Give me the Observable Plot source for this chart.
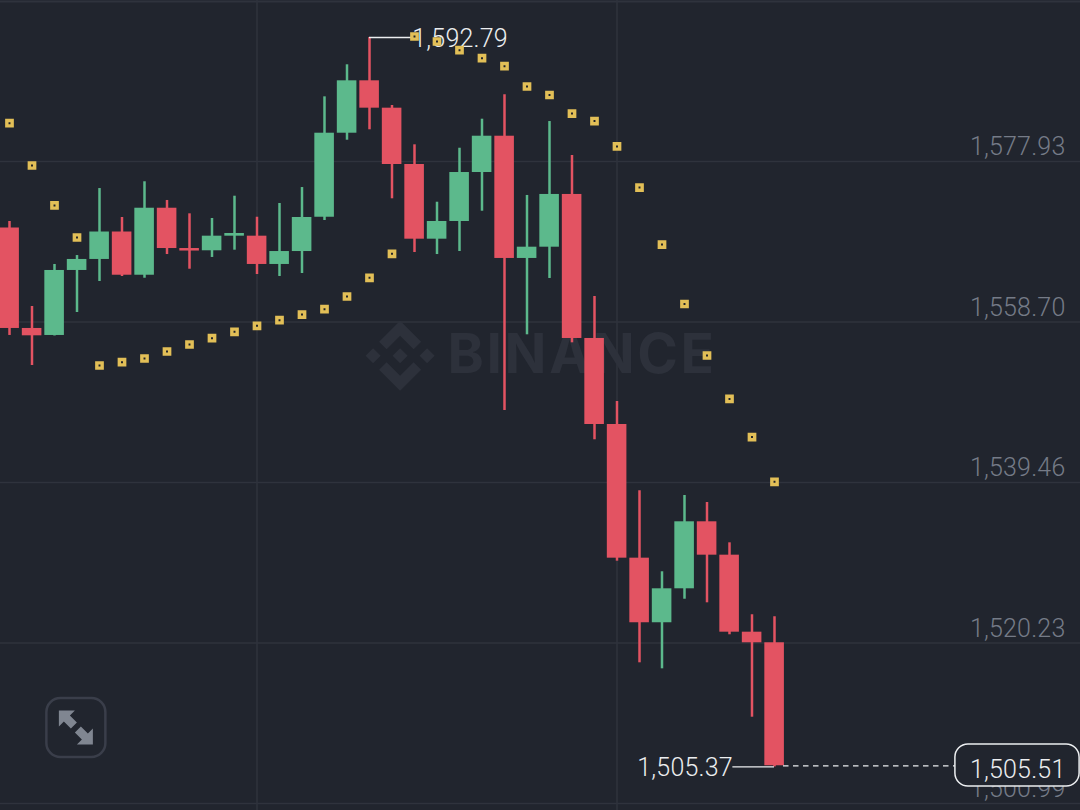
<!DOCTYPE html>
<html>
<head>
<meta charset="utf-8">
<script src="https://cdn.jsdelivr.net/npm/d3@7"></script>
<script src="https://cdn.jsdelivr.net/npm/@observablehq/plot@0.6"></script>
<style>
html,body{margin:0;padding:0;background:#21252e;overflow:hidden}
svg{display:block}
svg text{letter-spacing:.2px}
svg .wm text{letter-spacing:2.6px}
</style>
</head>
<body>
<div id="chart"></div>
<script>
const open  = [1569.96,1557.92,1557.08,1564.87,1566.19,1569.48,1564.30,1572.33,1567.50,1567.23,1568.98,1568.98,1565.59,1567.14,1571.25,1581.32,1587.60,1584.32,1577.57,1568.62,1570.74,1576.61,1580.96,1566.31,1567.66,1573.98,1556.72,1546.41,1530.39,1522.65,1526.72,1534.75,1530.75,1521.52,1520.25];
const close = [1557.92,1557.04,1564.87,1566.19,1569.48,1564.30,1572.33,1567.50,1567.20,1568.98,1569.30,1565.59,1567.14,1571.22,1581.32,1587.60,1584.32,1577.57,1568.62,1570.74,1576.61,1580.96,1566.31,1567.66,1573.98,1556.72,1546.41,1530.39,1522.65,1526.72,1534.75,1530.75,1521.52,1520.25,1505.51];
const high  = [1570.74,1560.55,1565.59,1566.66,1574.69,1571.22,1575.50,1573.26,1571.66,1571.10,1573.77,1571.25,1572.90,1574.81,1585.68,1589.52,1592.79,1584.64,1579.93,1573.05,1579.52,1583.00,1585.92,1573.86,1582.72,1578.65,1561.75,1549.17,1538.47,1528.76,1537.90,1537.06,1532.23,1523.61,1523.37];
const low   = [1557.08,1553.48,1557.02,1559.83,1563.55,1564.15,1563.94,1566.78,1565.02,1566.43,1567.30,1564.39,1564.15,1564.51,1570.86,1580.48,1581.73,1573.46,1567.02,1566.78,1567.14,1571.97,1548.09,1557.16,1563.91,1556.20,1544.58,1530.03,1517.85,1517.13,1525.47,1525.04,1521.21,1511.33,1505.37];
const sar   = [1582.52,1577.45,1572.66,1568.82,1553.48,1553.88,1554.32,1555.16,1556.00,1556.75,1557.52,1558.24,1558.91,1559.59,1560.23,1561.75,1563.99,1566.87,1592.91,1592.31,1591.27,1590.31,1589.35,1586.92,1585.90,1583.68,1582.78,1579.73,1574.81,1567.98,1560.85,1554.68,1549.47,1544.91,1539.54];
const priceTicks = [1577.93,1558.70,1539.46,1520.23,1500.99];
const timeGrid = [11,27];
const highest = 1592.79, lowest = 1505.37, last = 1505.51;

const BG = "#21252e", GRID = "#2f333d", RED = "#e35362", GREEN = "#5cb98c", GOLD = "#e2bf57", WHITE = "#eceef0", AXIS = "#757b87", WM = "#2d313b";

const candles = open.map((o, i) => ({i, o, c: close[i], h: high[i], l: low[i], s: sar[i]}));
const fmt = d3.format(",.2f");
const color = d => d.c >= d.o ? GREEN : RED;

const poly = (ctx, pts) => { pts.forEach(([x, y], k) => k ? ctx.lineTo(x, y) : ctx.moveTo(x, y)); ctx.closePath(); };
const logo = {draw(ctx) {
  const dia = (cx, r) => poly(ctx, [[cx, -r], [cx + r, 0], [cx, r], [cx - r, 0]]);
  dia(0, 7.5); dia(-27, 7.5); dia(27, 7.5);
  poly(ctx, [[0, -35], [21, -14], [13.5, -6.5], [0, -20], [-13.5, -6.5], [-21, -14]]);
  poly(ctx, [[0, 35], [21, 14], [13.5, 6.5], [0, 20], [-13.5, 6.5], [-21, 14]]);
}};
const frame = {draw(ctx) {
  const a = 29.5, r = 14;
  ctx.moveTo(-a + r, -a);
  ctx.arcTo(a, -a, a, a, r); ctx.arcTo(a, a, -a, a, r); ctx.arcTo(-a, a, -a, -a, r); ctx.arcTo(-a, -a, a, -a, r);
  ctx.closePath();
}};
const arrows = {draw(ctx) {
  poly(ctx, [[-17, -17], [-1, -17], [-6, -12], [1, -5], [-5, 1], [-12, -6], [-17, -1]]);
  poly(ctx, [[17, 17], [1, 17], [6, 12], [-1, 5], [5, -1], [12, 6], [17, 1]]);
}};

const chart = Plot.plot({
  width: 1080, height: 810,
  marginTop: 0, marginRight: 0, marginBottom: 0, marginLeft: 0,
  style: {background: BG, fontFamily: "Roboto, sans-serif"},
  x: {domain: [-0.4, 47.6], axis: null},
  y: {domain: [1500.15, 1597.225], axis: null},
  marks: [
    Plot.gridY(priceTicks, {stroke: GRID, strokeOpacity: 1, strokeWidth: 1.5}),
    Plot.ruleY([1597.1], {stroke: GRID, strokeWidth: 2}),
    Plot.gridX(timeGrid, {stroke: GRID, strokeOpacity: 1, strokeWidth: 1.5}),
    Plot.dot([0], {x: 17.36, y: 1554.65, symbol: logo, fill: WM, stroke: "none"}),
    Plot.text(["BINANCE"], {x: 19.47, y: 1554.65, text: d => d, textAnchor: "start", fontSize: 55, fontWeight: 700, fill: WM, className: "wm", fontFamily: "Inter"}),
    Plot.axisY(priceTicks, {anchor: "right", label: null, tickSize: 0, tickPadding: -15, textAnchor: "end", dy: -14, fontSize: 25, fontWeight: 300, fill: AXIS, tickFormat: fmt, fontFamily: "Roboto"}),
    Plot.ruleX(candles, {x: "i", y1: "l", y2: "h", stroke: color, strokeWidth: 2.5}),
    Plot.rect(candles, {x1: d => d.i - 0.43, x2: d => d.i + 0.44, y1: "o", y2: "c", fill: color}),
    Plot.ruleY([highest], {x1: 16, x2: 17.9, stroke: WHITE, strokeWidth: 1.3}),
    Plot.text([highest], {x: 17.9, y: highest, text: fmt, textAnchor: "start", dy: 1, fontSize: 25, fontWeight: 300, fill: WHITE, fontFamily: "Roboto"}),
    Plot.ruleY([lowest], {x1: 32.15, x2: 34, stroke: WHITE, strokeWidth: 1.3}),
    Plot.text([lowest], {x: 32.15, y: lowest, text: fmt, textAnchor: "end", dy: 1, fontSize: 25, fontWeight: 300, fill: WHITE, fontFamily: "Roboto"}),
    Plot.ruleY([last], {x1: 34.4, x2: 42.04, stroke: WHITE, strokeWidth: 1.3, strokeDasharray: "5.5 4.5"}),
    Plot.rect([last], {x1: 42.04, x2: 47.56, y1: 1503.03, y2: 1508.06, fill: BG, stroke: WHITE, strokeWidth: 1.5, rx: 13}),
    Plot.text([last], {x: 47.6, y: last, text: fmt, textAnchor: "end", dx: -15, dy: 4, fontSize: 25, fontWeight: 300, fill: WHITE, fontFamily: "Roboto"}),
    Plot.dot(candles, {x: "i", y: "s", symbol: "square", r: 3, fill: "#1f2127", stroke: GOLD, strokeWidth: 3.4}),
    Plot.dot([0], {x: 2.95, y: 1510.1, symbol: frame, fill: "none", stroke: "#3a3e4a", strokeWidth: 2.5}),
    Plot.dot([0], {x: 2.95, y: 1510.1, symbol: arrows, fill: "#808691", stroke: "none"})
  ]
});
document.getElementById("chart").append(chart);
</script>
</body>
</html>
